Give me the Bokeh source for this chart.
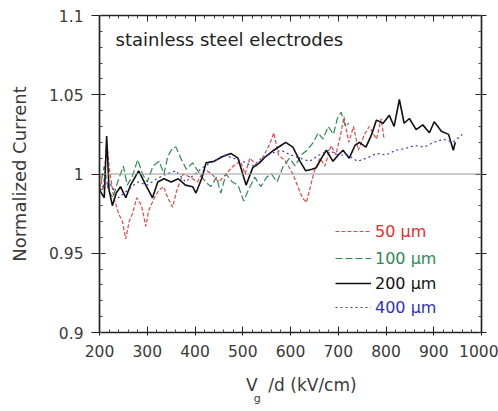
from bokeh.plotting import figure
from bokeh.models import (Range1d, FixedTicker, LinearAxis, Span, Label, Legend, LegendItem,
                          CustomJSTickFormatter, CustomLabelingPolicy)
from bokeh.embed import file_html
from bokeh.resources import INLINE

# ---------------- data ----------------
x_50 = [200, 208, 215, 222, 230, 240, 248, 255, 262, 269, 278, 288, 297, 303, 315, 325, 334, 343,
        353, 362, 375, 390, 405, 420, 435, 450, 465, 480, 495, 505, 515, 530, 545, 558, 565, 575,
        590, 605, 618, 625, 633, 640, 650, 662, 672, 685, 695, 705, 712, 722, 732, 742, 755, 765,
        780, 790, 796]
y_50 = [1.0, 0.99, 1.02, 1.0, 0.985, 0.975, 0.97, 0.959, 0.97, 0.975, 0.985, 0.98, 0.967, 0.977,
        0.985, 0.99, 0.992, 0.985, 0.979, 0.99, 1.0, 0.998, 0.995, 1.003, 1.0, 0.995, 1.0, 1.005,
        1.008, 1.0, 1.01, 1.005, 1.012, 1.02, 1.026, 1.012, 1.008, 1.0, 0.99, 0.985, 0.982, 0.99,
        1.002, 1.01, 1.005, 1.018, 1.012, 1.025, 1.036, 1.02, 1.03, 1.015, 1.025, 1.03, 1.022,
        1.035, 1.022]

x_100 = [200, 210, 218, 228, 238, 250, 258, 268, 280, 290, 300, 312, 325, 335, 343, 352, 360, 370,
         382, 395, 410, 422, 433, 445, 454, 465, 478, 490, 502, 512, 525, 538, 550, 560, 572, 585,
         598, 610, 622, 635, 648, 658, 668, 679, 690, 698, 706, 715, 722]
y_100 = [0.99, 1.005, 0.99, 0.985, 0.995, 1.005, 0.993, 0.998, 1.009, 1.0, 0.995, 1.005, 1.008,
         1.0, 1.011, 1.016, 1.017, 1.01, 1.003, 1.007, 1.0, 0.995, 0.992, 0.998, 0.988, 1.0, 0.995,
         0.993, 0.983, 0.99, 0.998, 0.992, 0.998, 1.0, 0.995, 1.005, 1.01, 1.005, 1.012, 1.015,
         1.02, 1.026, 1.022, 1.03, 1.025, 1.035, 1.039, 1.03, 1.032]

x_200 = [200, 210, 215, 220, 227, 235, 244, 255, 265, 282, 297, 311, 322, 335, 350, 365, 380, 395,
         402, 415, 423, 440, 458, 475, 490, 500, 507, 521, 535, 548, 565, 580, 590, 605, 620, 632,
         645, 654, 665, 675, 689, 700, 710, 723, 735, 744, 758, 770, 780, 794, 807, 817, 828, 838,
         849, 863, 877, 891, 901, 916, 931, 941, 945]
y_200 = [0.99, 0.985, 1.024, 0.99, 0.98, 0.988, 0.992, 0.985, 0.993, 1.002, 0.993, 0.985, 0.995,
         0.997, 0.995, 0.997, 0.993, 0.992, 0.988, 0.998, 1.007, 1.008, 1.011, 1.013, 1.01, 1.0,
         0.993, 1.004, 1.007, 1.011, 1.015, 1.018, 1.02, 1.017, 1.008, 1.002, 1.003, 1.004, 1.01,
         1.015, 1.008, 1.012, 1.015, 1.01, 1.018, 1.02, 1.017, 1.025, 1.034, 1.032, 1.037, 1.03,
         1.047, 1.032, 1.035, 1.028, 1.031, 1.026, 1.033, 1.027, 1.025, 1.015, 1.02]

x_400 = [200, 220, 240, 260, 280, 300, 320, 340, 360, 380, 400, 420, 440, 460, 480, 500, 520, 540,
         560, 580, 600, 620, 640, 660, 680, 700, 720, 740, 760, 780, 800, 820, 840, 860, 880, 900,
         920, 940, 960]
y_400 = [0.99, 0.995, 0.985, 0.99, 0.995, 0.993, 0.997, 1.0, 1.002, 0.995, 1.0, 1.005, 1.008,
         1.012, 1.01, 1.008, 1.005, 1.01, 1.013, 1.015, 1.012, 1.01, 1.008, 1.012, 1.015, 1.012,
         1.012, 1.008, 1.01, 1.013, 1.012, 1.015, 1.016, 1.018, 1.017, 1.02, 1.022, 1.02, 1.025]

x_ticks = [200, 300, 400, 500, 600, 700, 800, 900, 1000]
y_ticks = [0.9, 0.95, 1.0, 1.05, 1.1]
y_tick_labels = ["0.9", "0.95", "1", "1.05", "1.1"]
series_labels = ["50 \u00b5m", "100 \u00b5m", "200 \u00b5m", "400 \u00b5m"]
title_text = "stainless steel electrodes"
y_label = "Normalized Current"
x_label_main = "V"
x_label_sub = "g"
x_label_rest = "/d (kV/cm)"

FONT = "DejaVu Sans"
NB = "\u00a0"

p = figure(width=498, height=411, output_backend="svg", toolbar_location=None,
           x_range=Range1d(200, 1000), y_range=Range1d(0.9, 1.1),
           min_border_left=99, min_border_right=17, min_border_top=15, min_border_bottom=79,
           x_axis_type=None, y_axis_type=None)
p.grid.visible = False
p.outline_line_color = "#222222"
p.outline_line_width = 1.5
p.background_fill_color = "white"
p.border_fill_color = "white"

minor_x = [v for v in range(200, 1001, 20) if v % 100 != 0]
minor_y = [round(0.9 + 0.01 * i, 3) for i in range(21)]

fmt_y = CustomJSTickFormatter(args=dict(tv=y_ticks, tl=y_tick_labels),
                              code="const i = tv.findIndex(t => Math.abs(t - tick) < 1e-9); return i >= 0 ? tl[i] : '';")
no_labels = CustomLabelingPolicy(code="return new Set();")


def style_axis(ax, tin, tout, show_labels):
    ax.axis_line_color = "#222222"
    ax.axis_line_width = 1.2
    ax.major_tick_line_color = "#222222"
    ax.minor_tick_line_color = "#444444"
    ax.major_tick_in = tin
    ax.major_tick_out = tout
    ax.minor_tick_in = 3
    ax.minor_tick_out = 0
    if show_labels:
        ax.major_label_text_font = FONT
        ax.major_label_text_font_size = "15.5px"
        ax.major_label_text_color = "#3a3a3a"
    else:
        ax.major_label_text_font_size = "0px"
        ax.major_label_standoff = 0
        ax.major_label_policy = no_labels


xb = LinearAxis(ticker=FixedTicker(ticks=x_ticks, minor_ticks=minor_x))
style_axis(xb, 6, 3, True)
xb.major_label_standoff = 9
# main x label, with room left for the subscript and shifted right to match the reference
xb.axis_label = NB * 4 + x_label_main + NB * 2 + x_label_rest
xb.axis_label_text_font = FONT
xb.axis_label_text_font_size = "17px"
xb.axis_label_text_font_style = "normal"
xb.axis_label_text_color = "#3a3a3a"
xb.axis_label_standoff = 15
p.add_layout(xb, "below")

# invisible helper axis that only carries the subscript "g"
xs = LinearAxis(ticker=FixedTicker(ticks=[]))
xs.axis_line_color = None
xs.major_tick_line_color = None
xs.minor_tick_line_color = None
xs.major_tick_in = 0
xs.major_tick_out = 0
xs.minor_tick_in = 0
xs.minor_tick_out = 0
xs.major_label_text_font_size = "0px"
xs.major_label_standoff = 0
xs.major_label_policy = no_labels
xs.axis_label = x_label_sub + NB * 19
xs.axis_label_text_font = FONT
xs.axis_label_text_font_size = "11px"
xs.axis_label_text_font_style = "normal"
xs.axis_label_text_color = "#3a3a3a"
xs.axis_label_standoff = -6
p.add_layout(xs, "below")

xt = LinearAxis(ticker=FixedTicker(ticks=x_ticks, minor_ticks=minor_x))
style_axis(xt, 6, 0, False)
p.add_layout(xt, "above")

yl = LinearAxis(ticker=FixedTicker(ticks=y_ticks, minor_ticks=minor_y), formatter=fmt_y)
style_axis(yl, 6, 8, True)
yl.major_label_standoff = 8
yl.axis_label = y_label
yl.axis_label_text_font = FONT
yl.axis_label_text_font_size = "18px"
yl.axis_label_text_font_style = "normal"
yl.axis_label_text_color = "#3a3a3a"
yl.axis_label_standoff = 16
p.add_layout(yl, "left")

yr = LinearAxis(ticker=FixedTicker(ticks=y_ticks, minor_ticks=minor_y), formatter=fmt_y)
style_axis(yr, 6, 5, False)
p.add_layout(yr, "right")

p.add_layout(Span(location=1.0, dimension="width", line_color="#9a9a9a", line_width=1))

r50 = p.line(x_50, y_50, line_color="#e04848", line_width=1.2, line_dash="4 2")
r100 = p.line(x_100, y_100, line_color="#2f8a55", line_width=1.2, line_dash="7 3")
r200 = p.line(x_200, y_200, line_color="#111111", line_width=1.6)
r400 = p.line(x_400, y_400, line_color="#3a3acc", line_width=1.2, line_dash="2 3")

leg_colors = ["#e03030", "#2f8a55", "#111111", "#3030c0"]
leg_y = [91, 64, 39, 15]
for r, lab, col, ly in zip([r50, r100, r200, r400], series_labels, leg_colors, leg_y):
    lg = Legend(items=[LegendItem(label=lab, renderers=[r])], location=(236, ly),
                label_text_color=col, label_text_font=FONT, label_text_font_size="16px",
                border_line_color=None, background_fill_alpha=0, padding=0, margin=0,
                glyph_width=36, label_standoff=4, label_height=20, glyph_height=20)
    p.add_layout(lg, "center")

p.add_layout(Label(x=16, y=293, x_units="screen", y_units="screen", text=title_text,
                   text_font=FONT, text_font_size="18px", text_color="#222222",
                   text_baseline="alphabetic"))

open("out.html", "w").write(file_html(p, INLINE))
